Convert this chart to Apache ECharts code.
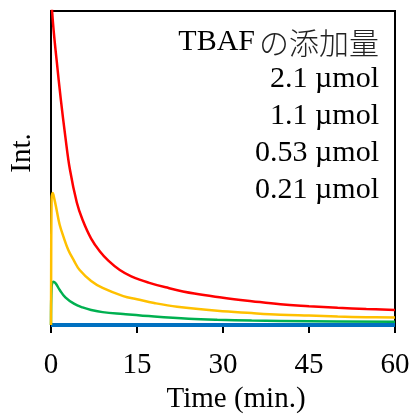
<!DOCTYPE html>
<html>
<head>
<meta charset="utf-8">
<script src="https://cdn.jsdelivr.net/npm/echarts@6/dist/echarts.min.js"></script>
<style>
  html, body { margin: 0; padding: 0; background: #fff; }
  #main { width: 412px; height: 414px; }
</style>
</head>
<body>
<div id="main"></div>
<script>
// amounts of TBAF added, one curve each
let seriesNames = ['2.1 µmol', '1.1 µmol', '0.53 µmol', '0.21 µmol'];
let colors = ['#ff0000', '#ffc000', '#00b050', '#0070c0'];
let xTicks = [0, 15, 30, 45, 60];

// time (min.) and intensity
let redT = [0.15, 0.5, 1, 1.7, 2.5, 3.3, 4.5, 5.5, 7, 8.5, 10, 12, 14, 17, 20, 25, 30, 35, 40, 45, 50, 55, 60];
let redV = [101, 93, 84, 72, 60, 49.5, 39, 33.5, 27.5, 23.5, 20.5, 17.5, 15.5, 13.5, 12, 10, 8.7, 7.6, 6.6, 6, 5.5, 5.1, 4.8];

let yellowT = [0, 0.1, 0.3, 0.6, 1, 1.5, 2.2, 3, 4, 5, 7, 9, 12.6, 15, 18, 22, 29, 35, 40, 45, 50, 55, 60];
let yellowV = [0, 40, 42, 40, 36.5, 32, 28, 24, 20.5, 17.5, 14, 11.8, 9.2, 8.2, 7, 5.8, 4.5, 3.8, 3.3, 3.0, 2.7, 2.5, 2.4];

let greenT = [0, 0.1, 0.4, 0.8, 1.5, 2.5, 4, 5.5, 7, 9, 12.6, 18, 24, 29, 35, 45, 60];
let greenV = [0, 12, 13.8, 13.3, 11.2, 8.8, 6.8, 5.6, 4.8, 4.1, 3.5, 2.7, 2.0, 1.65, 1.4, 1.2, 1.05];

let blueT = [0, 15, 30, 45, 60];
let blueV = [0, 0, 0, 0, 0];

let curves = [[redT, redV], [yellowT, yellowV], [greenT, greenV], [blueT, blueV]];

let serif = "'Liberation Serif', 'Times New Roman', serif";
let cjk = "'Noto Sans CJK JP', sans-serif";

var myChart = echarts.init(document.getElementById('main'));

let legendText = '{t|TBAF}{j|の添加量}';
for (let i = 0; i < seriesNames.length; i++) {
    legendText += '\n{t|' + seriesNames[i] + '}';
}

var option = {
    animation: false,
    graphic: [{
        type: 'text',
        x: 379,
        y: 24,
        z: 20,
        style: {
            text: legendText,
            align: 'right',
            verticalAlign: 'top',
            rich: {
                t: { fontFamily: serif, fontSize: 30, fontWeight: 'normal', fill: '#000', lineHeight: 37 },
                j: { fontFamily: cjk, fontSize: 30, fontWeight: 300, fill: '#222', lineHeight: 37, padding: [0, 0, 0, 4] }
            }
        }
    }],
    grid: {
        left: 51, right: 17, top: 11, bottom: 89,
        outerBoundsMode: 'none',
        containLabel: false,
        show: true, borderColor: '#000', borderWidth: 2
    },
    xAxis: {
        type: 'value',
        min: 0, max: 60, interval: 15,
        name: 'Time (min.)',
        nameLocation: 'middle',
        nameGap: 59,
        nameTextStyle: { fontFamily: serif, fontSize: 29, color: '#000', padding: [0, 0, 0, 26] },
        axisLine: { lineStyle: { color: '#000', width: 2 } },
        axisTick: { show: true, length: 8, lineStyle: { color: '#000', width: 2 } },
        axisLabel: {
            fontFamily: serif, fontSize: 29, color: '#000', margin: 26,
            formatter: function (v) { return xTicks.indexOf(v) >= 0 ? String(v) : ''; }
        },
        splitLine: { show: false }
    },
    yAxis: {
        type: 'value',
        min: 0, max: 100,
        name: 'Int.',
        nameLocation: 'middle',
        nameGap: 14,
        nameTextStyle: { fontFamily: serif, fontSize: 29, color: '#000', padding: [0, 0, 0, 30] },
        axisLine: { show: true, lineStyle: { color: '#000', width: 2 } },
        axisTick: { show: false },
        axisLabel: { show: false },
        splitLine: { show: false }
    },
    series: curves.map(function (c, i) {
        return {
            name: seriesNames[i],
            type: 'line',
            data: c[0].map(function (t, k) { return [t, c[1][k]]; }),
            showSymbol: false,
            smooth: 0.4,
            clip: true,
            z: 10 - i,
            lineStyle: { color: colors[i], width: i === 3 ? 4 : 2.5 },
            itemStyle: { color: colors[i] }
        };
    })
};

myChart.setOption(option);
</script>
</body>
</html>
